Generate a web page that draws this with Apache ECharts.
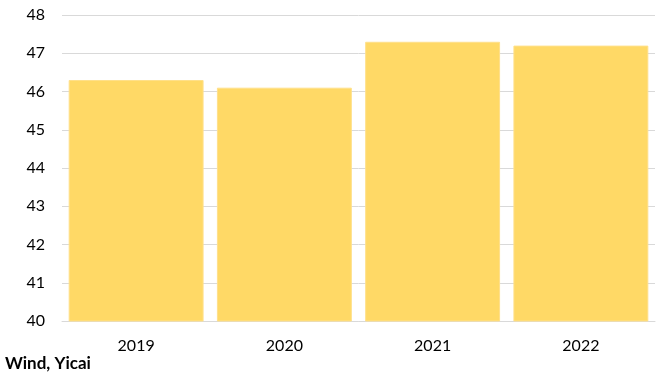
<!DOCTYPE html>
<html><head><meta charset="utf-8">
<script src="https://cdn.jsdelivr.net/npm/echarts@6/dist/echarts.min.js"></script>
<style>html,body{margin:0;padding:0;background:#fff}#c{width:665px;height:380px}</style>
</head><body><div id="c"></div>
<script>
const categories = ['2019', '2020', '2021', '2022'];
const values = [46.3, 46.1, 47.3, 47.2];
const yTicks = [40, 41, 42, 43, 44, 45, 46, 47, 48];
const sourceText = 'Wind, Yicai';

const chart = echarts.init(document.getElementById('c'), null, {renderer: 'canvas'});
chart.setOption({
  animation: false,
  grid: {left: 62, right: 10, top: 15, bottom: 59},
  xAxis: {
    type: 'category', data: categories,
    axisLine: {show: true, lineStyle: {color: '#d9d9d9', width: 1}},
    axisTick: {show: false},
    axisLabel: {color: '#000', fontSize: 16, fontFamily: 'Lato, "Open Sans", sans-serif', margin: 17}
  },
  yAxis: {
    type: 'value', min: yTicks[0], max: yTicks[yTicks.length - 1], interval: 1,
    axisLine: {show: false}, axisTick: {show: false},
    splitLine: {lineStyle: {color: '#d9d9d9', width: 1}},
    axisLabel: {color: '#000', fontSize: 16, fontFamily: 'Lato, "Open Sans", sans-serif', margin: 17}
  },
  graphic: [{
    type: 'text', left: 5, top: 355,
    style: {text: sourceText, fill: '#000', font: 'bold 17px Lato, "Open Sans", sans-serif'}
  }],
  series: [{
    type: 'bar', data: values, barCategoryGap: '9%',
    itemStyle: {color: '#FFD966', borderColor: '#FFE08A', borderWidth: 1}
  }]
});
</script></body></html>
